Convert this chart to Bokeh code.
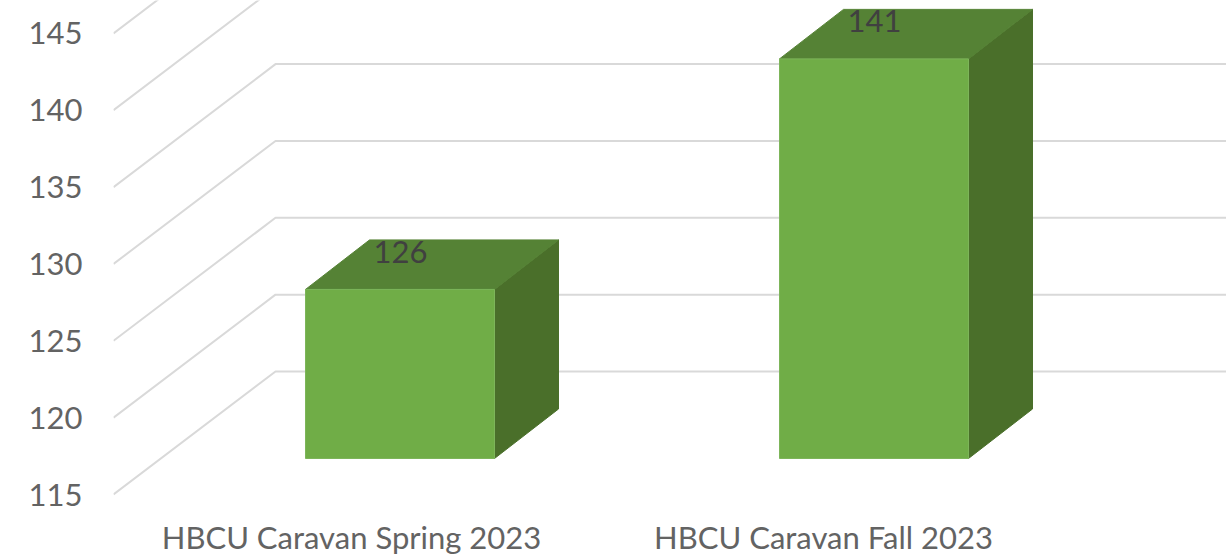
from bokeh.plotting import figure
from bokeh.models import LinearAxis, FixedTicker, Range1d
from bokeh.core.properties import value
from bokeh.embed import file_html
from bokeh.resources import INLINE

categories = ["HBCU Caravan Spring 2023", "HBCU Caravan Fall 2023"]
values = [126, 141]
y_ticks = [115, 120, 125, 130, 135, 140, 145]

FONT = "Lato"
PXU = 15.37       # px per value unit
PXX = 474.0       # px per category
floor_lift = 36 / PXU          # bar front floor above the axis floor
wall_dx, wall_dy = 162 / PXX, 123 / PXU
bar_dx, bar_dy = 64 / PXX, 49.5 / PXU
half = 94.5 / PXX

p = figure(width=1226, height=559, output_backend="svg", toolbar_location=None,
           x_range=Range1d(-(399.5 - 113) / PXX, (1226 - 399.5) / PXX),
           y_range=Range1d(115 - 3 / PXU, 115 + 494 / PXU),
           x_axis_type=None, y_axis_type=None,
           min_border_left=113, min_border_right=0, min_border_top=0, min_border_bottom=62)
p.outline_line_color = None
p.grid.visible = False
p.background_fill_color = "#FFFFFF"
p.border_fill_color = "#FFFFFF"

p.extra_x_ranges["cat"] = Range1d(-(351 - 113) / 472, (1226 - 351) / 472)

# axes
ya = LinearAxis(ticker=FixedTicker(ticks=y_ticks))
ya.axis_line_color = None
ya.major_tick_line_color = None
ya.minor_tick_line_color = None
ya.major_label_standoff = 25
ya.major_label_text_font = FONT
ya.major_label_text_font_size = "31px"
ya.major_label_text_color = "#636363"
p.add_layout(ya, "left")

xa = LinearAxis(x_range_name="cat", ticker=FixedTicker(ticks=[0, 1]),
                major_label_overrides={i: c for i, c in enumerate(categories)})
xa.axis_line_color = None
xa.major_tick_line_color = None
xa.minor_tick_line_color = None
xa.major_label_standoff = 14
xa.major_label_text_font = FONT
xa.major_label_text_font_size = "31px"
xa.major_label_text_color = "#636363"
p.add_layout(xa, "below")

# floor/wall gridlines
x0 = p.x_range.start
x1 = x0 + wall_dx
x2 = p.x_range.end
grid_xs = [[x0, x1, x2] for _ in y_ticks]
grid_ys = [[v, v + wall_dy, v + wall_dy] for v in y_ticks]
p.multi_line(grid_xs, grid_ys, line_color="#D9D9D9", line_width=2)

# 3D bars
xs = list(range(len(values)))
base = 115 + floor_lift
tops = [v + floor_lift for v in values]
p.patches([[x + half, x + half + bar_dx, x + half + bar_dx, x + half] for x in xs],
          [[base, base + bar_dy, t + bar_dy, t] for t in tops],
          fill_color="#4A6F2A", line_color="#4A6F2A", line_width=1)
p.patches([[x - half, x + half, x + half + bar_dx, x - half + bar_dx] for x in xs],
          [[t, t, t + bar_dy, t + bar_dy] for t in tops],
          fill_color="#558235", line_color="#558235", line_width=1)
p.vbar(x=xs, top=tops, bottom=base, width=2 * half,
       fill_color="#70AD47", line_color="#7DB55A", line_width=1)

# data labels
p.text(x=[x + 0.5 / PXX for x in xs], y=[t + 37.5 / PXU for t in tops],
       text=[str(v) for v in values], text_align="center", text_baseline="middle",
       text_font=value(FONT), text_font_size="31px", text_color="#404040")

open("out.html", "w").write(file_html(p, INLINE))
